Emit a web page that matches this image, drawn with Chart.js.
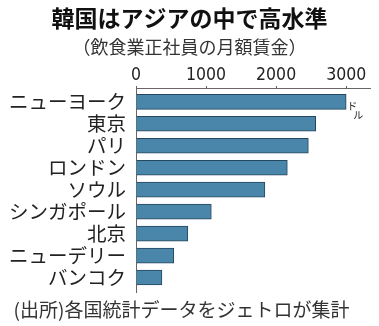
<!DOCTYPE html>
<html lang="ja">
<head>
<meta charset="utf-8">
<title>韓国はアジアの中で高水準</title>
<script src="https://cdn.jsdelivr.net/npm/chart.js@4/dist/chart.umd.min.js"></script>
<style>
  html, body { margin: 0; padding: 0; background: #fff; }
  canvas { display: block; }
</style>
</head>
<body>
<canvas id="c" width="379" height="326"></canvas>
<script>
// 飲食業正社員の月額賃金（ドル）
const cities = ['ニューヨーク', '東京', 'パリ', 'ロンドン', 'ソウル', 'シンガポール', '北京', 'ニューデリー', 'バンコク'];
const wages = [3000, 2565, 2460, 2160, 1840, 1075, 740, 540, 370];
const xTicks = [0, 1000, 2000, 3000];

const titleText = '韓国はアジアの中で高水準';
const subtitleText = '（飲食業正社員の月額賃金）';
const sourceText = '(出所)各国統計データをジェトロが集計';
const unitText = ['ド', 'ル'];

const JP = '"Noto Sans CJK JP", "Noto Sans", sans-serif';
const NUM = '"DejaVu Sans Condensed", "Liberation Sans", sans-serif';

// title, subtitle, source line and the unit note
const textPlugin = {
  id: 'texts',
  afterDraw(chart) {
    const ctx = chart.ctx;
    const w = chart.width;
    ctx.save();
    ctx.textAlign = 'center';
    ctx.textBaseline = 'middle';
    ctx.fillStyle = '#111';
    ctx.font = 'bold 23px ' + JP;
    ctx.fillText(titleText, w / 2, 18);
    ctx.fillStyle = '#333';
    ctx.font = '18px ' + JP;
    ctx.fillText(subtitleText, w / 2, 47);
    ctx.font = '19px ' + JP;
    ctx.fillText(sourceText, w / 2 - 8, 310);

    const xs = chart.scales.x, ys = chart.scales.y;
    const bx = xs.getPixelForValue(xTicks[xTicks.length - 1]);
    const by = ys.getPixelForValue(0);
    ctx.fillStyle = '#222';
    ctx.font = '10px ' + JP;
    ctx.fillText(unitText[0], bx + 6, by + 4);
    ctx.fillText(unitText[1], bx + 12, by + 13);
    ctx.restore();
  }
};

new Chart(document.getElementById('c'), {
  type: 'bar',
  data: {
    datasets: [{
      data: cities.map((c, i) => ({ x: wages[i], y: i })),
      backgroundColor: '#4a85aa',
      borderColor: '#24465e',
      borderWidth: 1,
      barThickness: 15
    }]
  },
  options: {
    indexAxis: 'y',
    responsive: false,
    animation: false,
    events: [],
    layout: { padding: { top: 0, left: 0, right: 9, bottom: 34 } },
    plugins: {
      legend: { display: false },
      tooltip: { enabled: false }
    },
    scales: {
      x: {
        type: 'linear',
        position: 'top',
        min: 0,
        max: 3340,
        afterFit(s) { s.height = 88; s.paddingLeft = 0; s.paddingRight = 0; },
        afterBuildTicks(s) { s.ticks = xTicks.map(v => ({ value: v })); },
        ticks: {
          callback: v => String(v),
          font: { family: NUM, size: 17.5 },
          color: '#222',
          padding: 0,
          maxRotation: 0
        },
        grid: { drawOnChartArea: false, drawTicks: true, tickLength: 2, color: '#666' },
        border: { color: '#666', width: 1 }
      },
      y: {
        type: 'linear',
        reverse: true,
        offset: false,
        min: -0.63,
        max: 8.66,
        afterFit(s) { s.width = 136; s.paddingTop = 0; s.paddingBottom = 0; },
        afterBuildTicks(s) { s.ticks = cities.map((c, i) => ({ value: i })); },
        ticks: {
          autoSkip: false,
          callback: v => cities[v],
          font: { family: JP, size: 19.5 },
          color: '#222',
          padding: 10
        },
        grid: { drawOnChartArea: false, drawTicks: false, color: '#666' },
        border: { color: '#666', width: 1 }
      }
    }
  },
  plugins: [textPlugin]
});
</script>
</body>
</html>
